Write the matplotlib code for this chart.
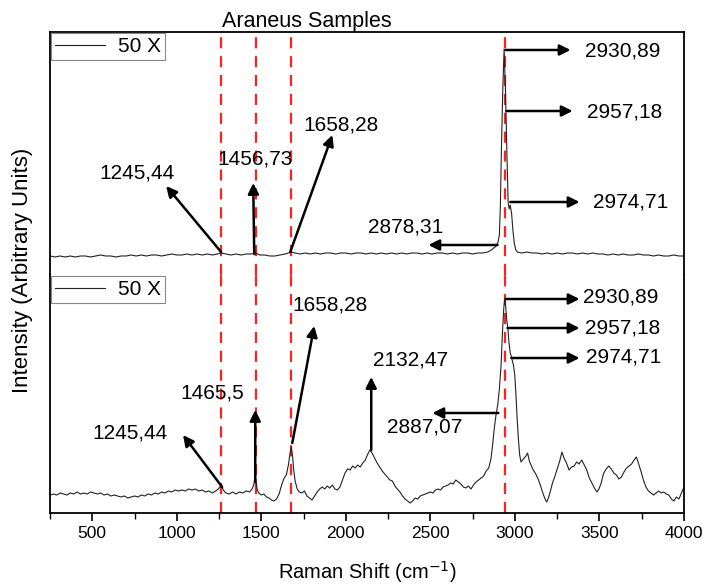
import matplotlib
matplotlib.use("Agg")
import matplotlib.pyplot as plt
from matplotlib.ticker import MultipleLocator

plt.rcParams['font.family'] = ['Liberation Sans', 'DejaVu Sans']

# ---- data (Raman shift in cm-1, intensity in arbitrary units) ----
top_shift = [250, 280, 310, 340, 370, 400, 430, 460, 490, 520,
             550, 580, 610, 640, 670, 700, 730, 760, 790, 820,
             850, 880, 910, 940, 970, 1000, 1030, 1060, 1090, 1120,
             1150, 1180, 1210, 1240, 1262, 1290, 1320, 1350, 1380, 1410,
             1440, 1466, 1490, 1520, 1550, 1580, 1610, 1640, 1660, 1677,
             1700, 1730, 1760, 1790, 1820, 1850, 1880, 1910, 1940, 1970,
             2000, 2030, 2060, 2090, 2120, 2150, 2180, 2210, 2240, 2270,
             2300, 2330, 2360, 2390, 2420, 2450, 2480, 2510, 2540, 2570,
             2600, 2630, 2660, 2690, 2720, 2750, 2780, 2810, 2840, 2860,
             2875, 2890, 2900, 2908, 2914, 2920, 2928, 2936, 2944, 2952,
             2960, 2966, 2972, 2980, 2988, 2996, 3005, 3015, 3040, 3070,
             3100, 3130, 3160, 3190, 3220, 3250, 3280, 3310, 3340, 3370,
             3400, 3430, 3460, 3490, 3520, 3550, 3580, 3610, 3640, 3670,
             3700, 3730, 3760, 3790, 3820, 3850, 3880, 3910, 3940, 3970,
             4000]
top_int = [19, 18, 19, 18, 19, 18, 19, 19, 18, 19,
           20, 19, 19, 18, 19, 19, 20, 19, 20, 19,
           20, 20, 19, 20, 21, 20, 20, 21, 20, 21,
           20, 21, 20, 21, 22, 21, 20, 21, 20, 21,
           21, 22, 20, 20, 19, 19, 20, 21, 22, 23,
           22, 21, 22, 21, 22, 21, 22, 22, 21, 22,
           22, 21, 22, 22, 21, 22, 21, 22, 21, 22,
           21, 22, 21, 22, 22, 21, 22, 21, 22, 22,
           21, 22, 21, 22, 22, 21, 22, 22, 23, 25,
           27, 29, 33, 40, 70, 125, 185, 226, 185, 125,
           72, 66, 70, 62, 45, 32, 25, 23, 22, 23,
           22, 22, 21, 22, 21, 22, 21, 22, 22, 21,
           22, 21, 22, 21, 21, 20, 21, 20, 21, 20,
           20, 21, 20, 20, 19, 20, 19, 19, 20, 19,
           19]

bot_shift = [250, 270, 290, 310, 330, 350, 370, 390, 410, 430,
             450, 470, 490, 510, 530, 550, 570, 590, 610, 630,
             650, 670, 690, 710, 730, 750, 770, 790, 810, 830,
             850, 870, 890, 910, 930, 950, 970, 990, 1010, 1030,
             1050, 1070, 1090, 1110, 1130, 1150, 1170, 1190, 1210, 1230,
             1245, 1255, 1265, 1275, 1290, 1310, 1330, 1350, 1370, 1390,
             1410, 1430, 1445, 1455, 1462, 1468, 1474, 1485, 1500, 1515,
             1530, 1545, 1560, 1575, 1590, 1605, 1620, 1635, 1648, 1660,
             1670, 1677, 1684, 1692, 1700, 1712, 1725, 1740, 1755, 1770,
             1785, 1800, 1815, 1830, 1845, 1860, 1875, 1890, 1905, 1920,
             1935, 1950, 1965, 1980, 1995, 2010, 2025, 2040, 2055, 2070,
             2085, 2100, 2115, 2130, 2142, 2155, 2170, 2185, 2200, 2215,
             2230, 2245, 2260, 2275, 2290, 2305, 2320, 2335, 2350, 2365,
             2380, 2395, 2410, 2425, 2440, 2455, 2470, 2485, 2500, 2515,
             2530, 2545, 2560, 2575, 2590, 2605, 2620, 2635, 2650, 2665,
             2680, 2695, 2710, 2725, 2740, 2755, 2770, 2785, 2800, 2815,
             2830, 2845, 2858, 2868, 2878, 2888, 2898, 2908, 2918, 2926,
             2934, 2940, 2946, 2952, 2958, 2965, 2972, 2978, 2985, 2992,
             2999, 3006, 3013, 3020, 3028, 3036, 3045, 3055, 3065, 3075,
             3085, 3095, 3105, 3120, 3135, 3150, 3165, 3178, 3188, 3198,
             3210, 3222, 3235, 3250, 3265, 3278, 3290, 3305, 3320, 3335,
             3350, 3365, 3380, 3395, 3410, 3425, 3440, 3455, 3470, 3485,
             3497, 3510, 3525, 3540, 3555, 3570, 3585, 3600, 3615, 3630,
             3645, 3660, 3675, 3690, 3705, 3718, 3730, 3745, 3760, 3775,
             3790, 3805, 3820, 3835, 3850, 3865, 3880, 3895, 3910, 3925,
             3940, 3955, 3970, 3985, 4000]
bot_int = [18, 19, 18, 20, 19, 18, 20, 19, 21, 19,
           20, 19, 21, 20, 19, 20, 18, 19, 17, 18,
           17, 16, 17, 15, 16, 17, 16, 18, 17, 19,
           18, 20, 19, 21, 20, 22, 21, 23, 22, 23,
           22, 24, 23, 24, 22, 23, 21, 22, 20, 22,
           24, 26, 27, 23, 20, 19, 21, 19, 21, 20,
           22, 21, 24, 28, 36, 34, 24, 20, 18, 19,
           16, 15, 13, 12, 14, 19, 28, 35, 38, 48,
           60, 66, 58, 42, 32, 24, 21, 20, 22, 17,
           15, 13, 17, 21, 24, 26, 24, 27, 25, 28,
           24, 23, 26, 33, 40, 44, 43, 47, 45, 48,
           46, 50, 53, 59, 63, 60, 55, 50, 46, 42,
           39, 36, 33, 32, 27, 24, 21, 17, 14, 12,
           10, 12, 15, 14, 17, 18, 19, 20, 21, 20,
           23, 24, 23, 26, 27, 28, 30, 29, 33, 31,
           29, 26, 25, 27, 24, 28, 31, 33, 35, 37,
           42, 45, 54, 68, 85, 98, 108, 124, 148, 180,
           205, 215, 205, 192, 185, 170, 160, 157, 152, 147,
           138, 118, 95, 75, 58, 51, 53, 55, 57, 60,
           52, 48, 44, 40, 35, 28, 20, 14, 11, 15,
           22, 30, 36, 44, 52, 61, 55, 50, 43, 46,
           47, 51, 49, 53, 48, 43, 35, 30, 25, 21,
           24, 30, 40, 44, 47, 44, 40, 38, 34, 36,
           41, 45, 47, 49, 53, 56, 50, 42, 33, 26,
           22, 20, 18, 20, 22, 20, 21, 19, 18, 14,
           12, 16, 14, 20, 26]

peak_lines = [1262, 1466, 1677, 2940]

top_labels = ['1245,44', '1456,73', '1658,28', '2930,89', '2957,18', '2974,71', '2878,31']
bot_labels = ['1245,44', '1465,5', '1658,28', '2132,47', '2887,07', '2930,89', '2957,18', '2974,71']

# annotation layout: (text x, text y, arrow tail x, tail y, head x, head y)
top_layout = [(765, 102, 1262, 23, 937, 89),
              (1464, 116, 1458, 21, 1452, 92),
              (1973, 150, 1671, 23, 1920, 140),
              (3637, 224, 2944, 225, 3329, 225),
              (3648, 163, 2950, 164, 3341, 164),
              (3684, 73, 2973, 73, 3382, 73),
              (2352, 48, 2897, 30, 2488, 30)]
bot_layout = [(724, 80, 1268, 26, 1037, 78),
              (1209, 120, 1464, 31, 1464, 103),
              (1908, 208, 1683, 70, 1813, 187),
              (2381, 153, 2150, 63, 2150, 136),
              (2464, 86, 2902, 100, 2512, 100),
              (3625, 216, 2950, 214, 3382, 214),
              (3637, 185, 2956, 185, 3382, 185),
              (3642, 156, 2979, 155, 3382, 155)]

fig = plt.figure(figsize=(7.07, 5.88), dpi=100)
W, H = 707, 588
left, right = 50 / W, 684 / W
ax_top = fig.add_axes([left, 1 - 275 / H, right - left, 243 / H])
ax_bot = fig.add_axes([left, 1 - 513 / H, right - left, 238 / H], sharex=ax_top)


def draw_panel(ax, x, y, labels, layout, ylim):
    ax.plot(x, y, color='#222222', lw=0.8, label='50 X')
    for v in peak_lines:
        ax.axvline(v, color='#ff2020', lw=1.6, ls=(0, (5, 3.5)), zorder=1)
    for lab, (tx, ty, x0, y0, x1, y1) in zip(labels, layout):
        ax.annotate('', xy=(x1, y1), xytext=(x0, y0),
                    arrowprops=dict(arrowstyle='-|>', color='black', lw=1.8,
                                    mutation_scale=16, shrinkA=0, shrinkB=0))
        ax.text(tx, ty, lab, fontsize=15, ha='center', va='center')
    ax.set_ylim(*ylim)
    ax.set_yticks([])
    leg = ax.legend(loc='upper left', bbox_to_anchor=(0, 1), borderaxespad=0.05,
                    fancybox=False, edgecolor='#888888', fontsize=15,
                    handlelength=2.4, handletextpad=0.6, borderpad=0.2,
                    framealpha=1)
    leg.get_frame().set_linewidth(0.8)
    for sp in ax.spines.values():
        sp.set_linewidth(1.3)


draw_panel(ax_top, top_shift, top_int, top_labels, top_layout, (0, 243))
draw_panel(ax_bot, bot_shift, bot_int, bot_labels, bot_layout, (0, 238))

ax_top.spines['bottom'].set_visible(False)
ax_bot.spines['top'].set_visible(False)
ax_top.tick_params(axis='x', which='both', bottom=False, labelbottom=False)

ax_bot.set_xlim(250, 4000)
ax_bot.xaxis.set_major_locator(MultipleLocator(500))
ax_bot.xaxis.set_minor_locator(MultipleLocator(250))
ax_bot.tick_params(axis='x', which='major', direction='out', length=6, width=1.2, labelsize=12.5)
ax_bot.tick_params(axis='x', which='minor', direction='out', length=4, width=1.0)

fig.text(307 / W, 1 - 21 / H, 'Araneus Samples', fontsize=15.5, ha='center', va='center')
fig.text(367 / W, 1 - 572 / H, 'Raman Shift (cm$^{-1}$)', fontsize=14.5, ha='center', va='center')
fig.text(23 / W, 1 - 270 / H, 'Intensity (Arbitrary Units)', fontsize=16,
         ha='center', va='center', rotation=90)

fig.savefig('out.png', dpi=100)
